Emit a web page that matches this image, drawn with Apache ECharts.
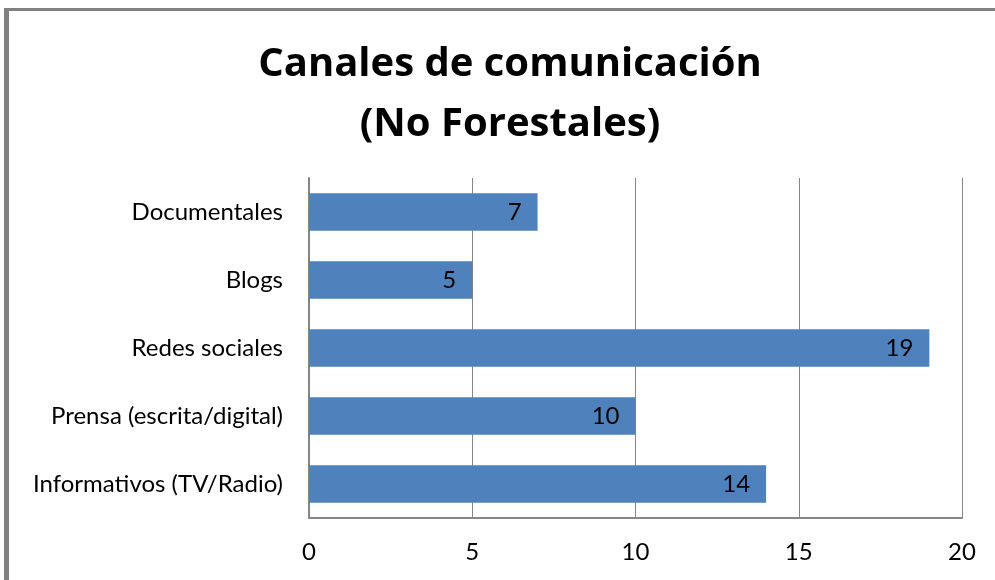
<!DOCTYPE html>
<html>
<head>
<meta charset="utf-8">
<script src="https://cdn.jsdelivr.net/npm/echarts@6/dist/echarts.min.js"></script>
<style>
  html, body { margin: 0; padding: 0; background: #fff; }
  #chart { width: 995px; height: 580px; }
</style>
</head>
<body>
<div id="chart"></div>
<script>
const categories = ['Informativos (TV/Radio)', 'Prensa (escrita/digital)', 'Redes sociales', 'Blogs', 'Documentales']
const values = [14, 10, 19, 5, 7]
const xTicks = [0, 5, 10, 15, 20]

const chart = echarts.init(document.getElementById('chart'))

const titleFont = "'Open Sans', 'Liberation Sans', sans-serif"
const font = "Lato, 'Open Sans', sans-serif"

const option = {
  backgroundColor: '#fff',
  animation: false,
  graphic: [
    { type: 'rect', shape: { x: 4, y: 8, width: 5, height: 572 }, style: { fill: '#808080' } },
    { type: 'rect', shape: { x: 4, y: 8, width: 991, height: 3 }, style: { fill: '#808080' } },
  ],
  title: {
    text: 'Canales de comunicación\n(No Forestales)',
    left: 505,
    top: 30,
    textAlign: 'center',
    textStyle: {
      fontFamily: titleFont,
      fontSize: 40,
      fontWeight: 'bold',
      color: '#000',
      lineHeight: 60,
    },
  },
  grid: {
    left: 309,
    right: 33,
    top: 178,
    bottom: 62,
  },
  xAxis: {
    type: 'value',
    min: xTicks[0],
    max: xTicks[xTicks.length - 1],
    interval: 5,
    axisLine: { show: true, lineStyle: { color: '#868686', width: 2 } },
    axisTick: { show: false },
    axisLabel: {
      color: '#000',
      fontFamily: font,
      fontSize: 24,
      margin: 22,
    },
    splitLine: { lineStyle: { color: '#868686', width: 1 } },
  },
  yAxis: {
    type: 'category',
    data: categories,
    axisLine: { show: true, lineStyle: { color: '#868686', width: 2 } },
    axisTick: { show: false },
    axisLabel: {
      color: '#000',
      fontFamily: font,
      fontSize: 24,
      margin: 26,
    },
  },
  series: [
    {
      type: 'bar',
      data: values,
      barWidth: '55%',
      itemStyle: { color: '#4F81BD' },
      label: {
        show: true,
        position: 'insideRight',
        distance: 16,
        color: '#000',
        fontFamily: font,
        fontSize: 24,
      },
    },
  ],
}

chart.setOption(option)
</script>
</body>
</html>
